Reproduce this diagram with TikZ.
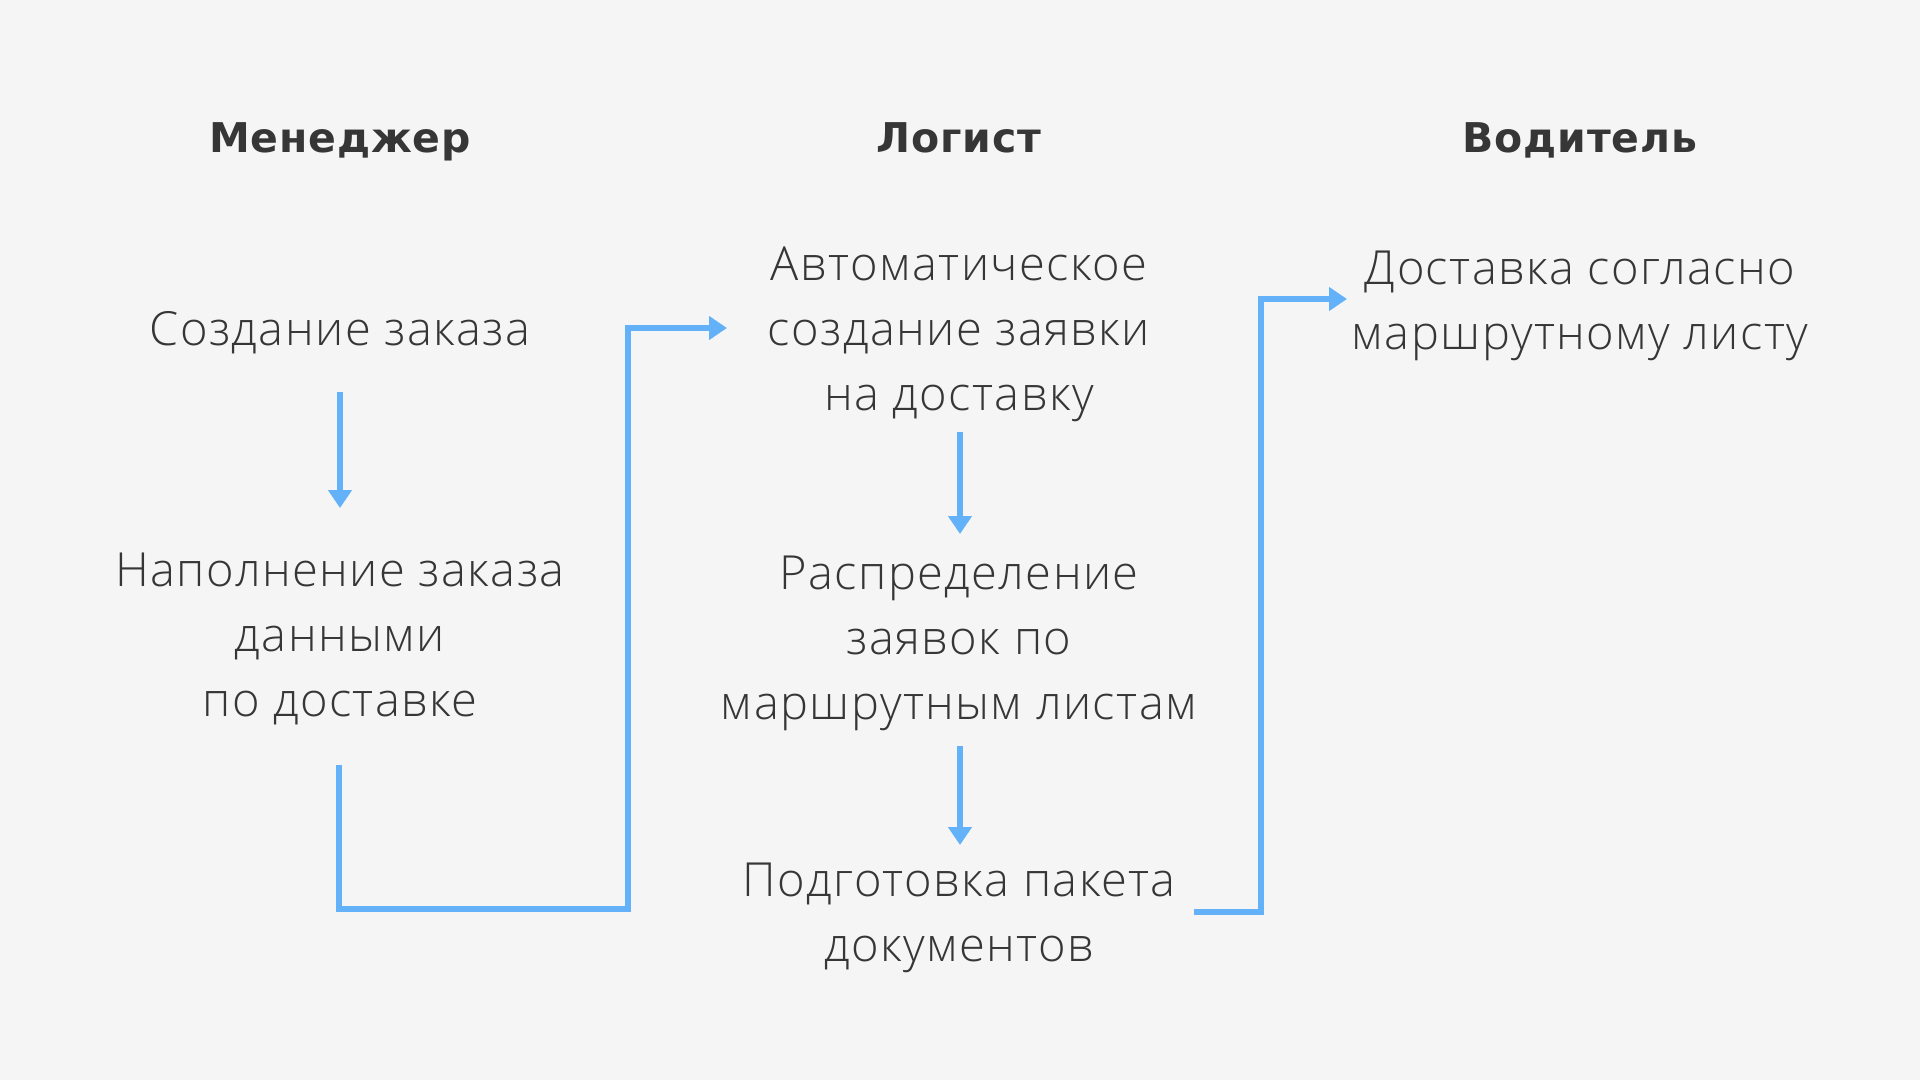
\documentclass[tikz,border=0pt]{standalone}
\usepackage{fontspec}
\setmainfont{Open Sans Light}[LetterSpace=3]
\newfontfamily\headfont{DejaVu Sans}[LetterSpace=2]
\usetikzlibrary{arrows.meta}
\definecolor{bg}{HTML}{F5F5F5}
\definecolor{ink}{HTML}{363636}
\definecolor{flow}{HTML}{62B1F9}
\begin{document}
\begin{tikzpicture}[x=1pt,y=-1pt,
  head/.style={font=\headfont\bfseries\fontsize{41}{50}\selectfont, text=ink, anchor=base},
  body/.style={font=\fontsize{47}{65}\selectfont, text=ink, align=center, anchor=center, inner sep=0pt},
  flowline/.style={draw=flow, line width=5.5pt, -{Triangle[length=18pt,width=23pt]}}
]
\fill[bg] (0,0) rectangle (1920,1080);
\useasboundingbox (0,0) rectangle (1920,1080);
\node[head] (hm) at (340,152) {Менеджер};
\node[head] (hl) at (959,152) {Логист};
\node[head] (hd) at (1580,152) {Водитель};

\node[body, anchor=base] (m1) at (340,345) {Создание заказа};
\node[body] (m2) at (340,639) {Наполнение заказа\\данными\\по доставке};
\node[body] (l1) at (959,334) {Автоматическое\\создание заявки\\на доставку};
\node[body] (l2) at (959,643) {Распределение\\заявок по\\маршрутным листам};
\node[body] (l3) at (959,918) {Подготовка пакета\\документов};
\node[body] (d1) at (1580,306) {Доставка согласно\\маршрутному листу};

\coordinate (a1s) at (340,392); \coordinate (a1e) at (340,508);
\coordinate (a2s) at (960,432); \coordinate (a2e) at (960,534);
\coordinate (a3s) at (960,746); \coordinate (a3e) at (960,845);
\draw[flowline] (a1s) -- (a1e);
\draw[flowline] (a2s) -- (a2e);
\draw[flowline] (a3s) -- (a3e);

\coordinate (c1s) at (339,765);
\coordinate (c1e) at (727,328);
\draw[flowline, line join=miter] (c1s) -- (339,909) -- (628,909) -- (628,328) -- (c1e);
\coordinate (c2s) at (1194,912);
\coordinate (c2e) at (1347,299);
\draw[flowline, line join=miter] (c2s) -- (1261,912) -- (1261,299) -- (c2e);
\end{tikzpicture}
\end{document}
